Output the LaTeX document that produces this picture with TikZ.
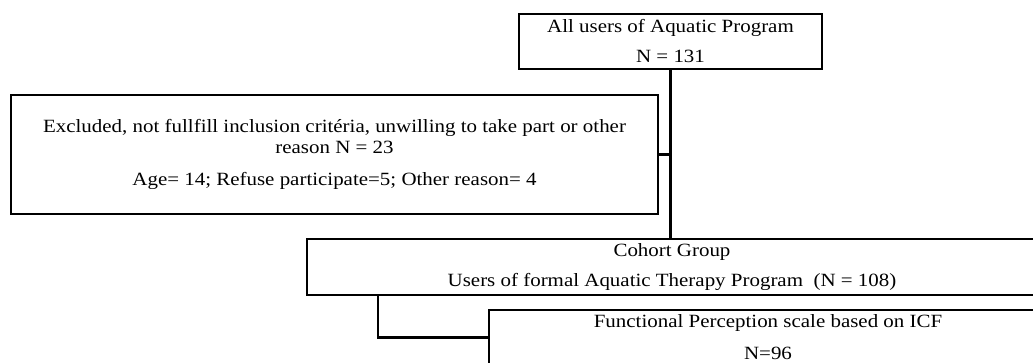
\documentclass[tikz,border=0pt]{standalone}
\usepackage{fontspec}
\setmainfont{Liberation Serif}[FakeStretch=1.12,Ligatures=NoCommon]
\usepackage{tikz}

\begin{document}
\begin{tikzpicture}[x=1pt,y=-1pt,line width=2.3pt,
  box/.style={shape=rectangle,draw=black,inner sep=0pt,align=center,
    font=\fontsize{18.7}{21}\selectfont},
  elbow/.style={to path={|- (\tikztotarget)}}]
\useasboundingbox (0,0) rectangle (1033,362);
\clip (0,0) rectangle (1033,362);
\node[box,minimum width=303,minimum height=55] (A) at (670.5,41.5) {All users of Aquatic Program\\[9pt]N = 131};
\node[box,minimum width=647,minimum height=119] (B) at (334.5,154.5) {Excluded, not fullfill inclusion critéria, unwilling to take part or other\\reason N = 23\\[11pt]Age= 14; Refuse participate=5; Other reason= 4};
\node[box,minimum width=730,minimum height=56] (C) at (672,267) {Cohort Group\\[9pt]Users of formal Aquatic Therapy Program\ \ (N = 108)};
\node[box,minimum width=558,minimum height=55] (D) at (768,337.5) {Functional Perception scale based on ICF\\[11pt]N=96};
\path [] (A.south) edge (A.south |- C.north);
\path [] (B.east) edge (B.east -| A.south);
\path [] ([xshift=72pt]C.south west) edge[elbow] (D.west);
\end{tikzpicture}
\end{document}
